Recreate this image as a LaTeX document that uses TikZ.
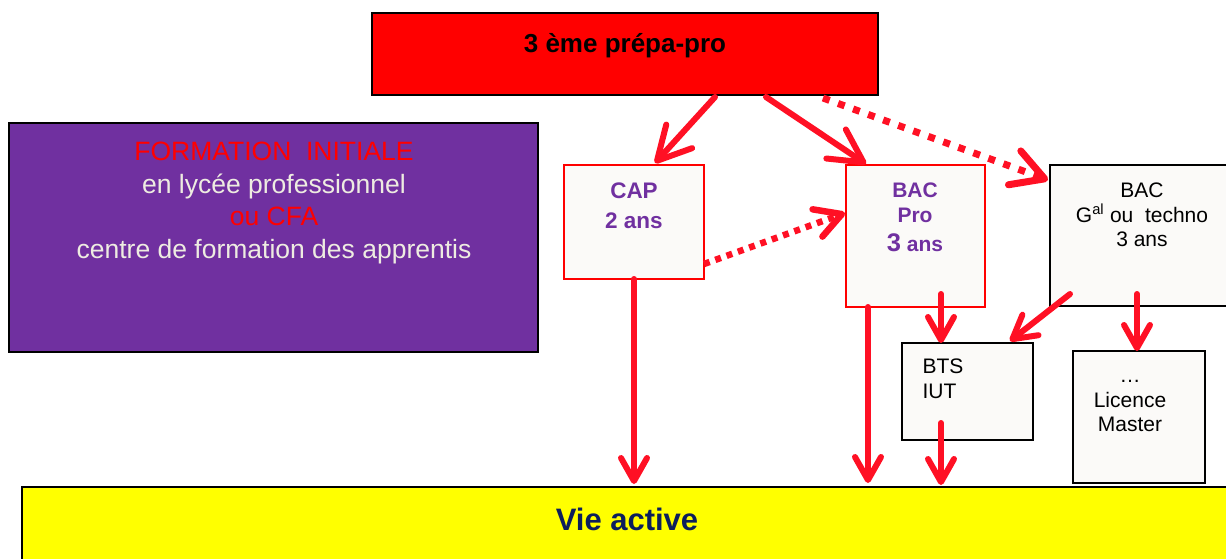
\documentclass[tikz,border=0pt]{standalone}
\usepackage{fontspec}
\setmainfont{Liberation Sans}
\usetikzlibrary{arrows.meta,calc}
\definecolor{ared}{RGB}{255,16,36}
\definecolor{topred}{RGB}{255,0,0}
\definecolor{purp}{RGB}{112,48,160}
\definecolor{lightt}{RGB}{238,236,225}
\definecolor{offw}{RGB}{251,250,248}
\definecolor{navy}{RGB}{12,30,92}
\definecolor{yel}{RGB}{255,255,0}
\begin{document}
\begin{tikzpicture}[x=1pt,y=-1pt,
 box/.style={draw, line width=2pt, anchor=north west, inner sep=0pt, outer sep=0pt, rectangle},
 redbox/.style={box, draw=red, fill=offw, line width=1.6pt},
 blkbox/.style={box, draw=black, fill=offw, line width=2pt},
 bigarr/.style={draw=ared, line width=6pt, line cap=round, -{Straight Barb[length=33pt,width=35pt,round]}},
 smallarr/.style={draw=ared, line width=6pt, line cap=round, -{Straight Barb[length=23pt,width=26pt,round]}},
 dotA/.style={draw=ared, line width=7pt, line cap=butt, dash pattern=on 7pt off 9pt, -{Straight Barb[length=32pt,width=36pt,round]}},
 dotB/.style={draw=ared, line width=6.5pt, line cap=butt, dash pattern=on 6pt off 6pt, -{Straight Barb[length=26pt,width=29pt,round]}},
]
\clip (0,0) rectangle (1226,558);
\fill[white] (0,0) rectangle (1226,558);
% boxes
\node[box, fill=topred, draw=black, minimum width=506, minimum height=82] (top) at (372,13) {};
\node[box, fill=purp, draw=black, minimum width=529, minimum height=229] (form) at (9,123) {};
\node[redbox, minimum width=140, minimum height=114] (cap) at (564,165) {};
\node[redbox, minimum width=139, minimum height=142] (bacpro) at (846,165) {};
\node[blkbox, minimum width=200, minimum height=141] (bacg) at (1050,165) {};
\node[blkbox, minimum width=131, minimum height=97] (bts) at (902,343) {};
\node[blkbox, minimum width=132, minimum height=132] (lic) at (1073,351) {};
\node[box, fill=yel, draw=black, line width=2.5pt, minimum width=1230, minimum height=100] (vie) at (22,487) {};
% texts
\node[font=\bfseries\fontsize{26}{30}\selectfont] (toptxt) at (625,46) {3 ème prépa-pro};
\node[align=center, font=\fontsize{26.5}{32.5}\selectfont, text=lightt] (formtxt) at (274,203)
 {\textcolor{topred}{FORMATION\ \ INITIALE}\\en lycée professionnel\\\textcolor{topred}{ou CFA}\\centre de formation des apprentis};
\node[align=center, font=\bfseries\fontsize{22.5}{30}\selectfont, text=purp] (captxt) at (634,206) {CAP\\2 ans};
\node[align=center, font=\bfseries\fontsize{21}{25}\selectfont, text=purp] (bptxt) at (915,217)
 {BAC\\Pro\\[4pt]{\fontsize{25.5}{25}\selectfont 3} ans};
\node[align=center, font=\fontsize{21}{24.5}\selectfont] (bgtxt) at (1142,215) {BAC\\G\textsuperscript{al} ou\ \ techno\\3 ans};
\node[align=left, anchor=west, font=\fontsize{21}{25}\selectfont] (btstxt) at (919,379) {BTS\\IUT};
\node[align=center, font=\fontsize{21}{24.5}\selectfont] (lictxt) at (1130,406) {…\\Licence\\Master};
\node[font=\bfseries\fontsize{31}{31}\selectfont, text=navy] (vietxt) at (627,519) {Vie active};
% helper coordinates
\coordinate (capend) at (cap.south |- vie.north);
\coordinate (bpend) at (bacpro.south west |- vie.north);
\coordinate (btsend) at (bts.south west |- vie.north);
% connectors
\draw[bigarr] ($(top.south)+(90,2)$) -- ($(cap.north)+(21,-2)$);
\draw[bigarr] ($(top.south)+(141,2)$) -- ($(bacpro.north west)+(20,-1)$);
\draw[dotA] ($(top.south)+(198,3)$) -- ($(bacg.north west)+(-2,15)$);
\draw[dotB] ($(cap.south east)+(0,-15)$) -- ($(bacpro.north west)+(-1,48)$);
\draw[smallarr] (cap.south) -- ($(capend)+(0,-3)$);
\draw[smallarr] ($(bacpro.south west)+(22,0)$) -- ($(bpend)+(22,-4)$);
\draw[smallarr] ($(bacpro.south west)+(95,-13)$) -- ($(bts.north west)+(39,0)$);
\draw[smallarr] ($(bacg.south west)+(20,-12)$) -- ($(bts.north east)+(-23,-2)$);
\draw[smallarr] ($(bacg.south west)+(87,-12)$) -- ($(lic.north west)+(64,0)$);
\draw[smallarr] ($(bts.south west)+(39,-17)$) -- ($(btsend)+(39,-2)$);
\end{tikzpicture}
\end{document}
